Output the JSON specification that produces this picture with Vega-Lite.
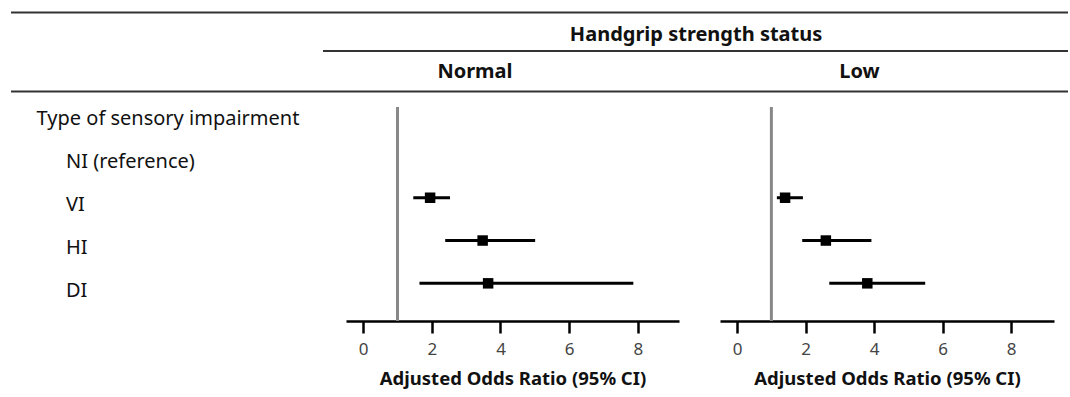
{
  "$schema": "https://vega.github.io/schema/vega-lite/v6.json",
  "background": "white",
  "padding": {"left": 10, "top": 11, "right": 3, "bottom": 5},
  "config": {"view": {"stroke": null}, "font": "Noto Sans"},
  "datasets": {
    "or": [
      {"grip": "Normal", "type": "VI", "or": 1.95, "lo": 1.46, "hi": 2.53},
      {"grip": "Normal", "type": "HI", "or": 3.48, "lo": 2.39, "hi": 5.01},
      {"grip": "Normal", "type": "DI", "or": 3.64, "lo": 1.64, "hi": 7.87},
      {"grip": "Low", "type": "VI", "or": 1.40, "lo": 1.16, "hi": 1.92},
      {"grip": "Low", "type": "HI", "or": 2.59, "lo": 1.90, "hi": 3.92},
      {"grip": "Low", "type": "DI", "or": 3.80, "lo": 2.69, "hi": 5.49}
    ],
    "rows": [
      {"label": "Type of sensory impairment", "level": "heading"},
      {"label": "NI (reference)", "level": "item"},
      {"label": "VI", "level": "item"},
      {"label": "HI", "level": "item"},
      {"label": "DI", "level": "item"}
    ],
    "hdr": [
      {"text": "Handgrip strength status", "panel": "Normal", "level": "top"},
      {"text": "Normal", "panel": "Normal", "level": "sub"},
      {"text": "Low", "panel": "Low", "level": "sub"}
    ]
  },
  "spacing": 12,
  "resolve": {"scale": {"x": "independent", "y": "independent"}},
  "vconcat": [
    {
      "spacing": 0,
      "bounds": "flush",
      "resolve": {"scale": {"x": "independent", "y": "independent"}},
      "hconcat": [
        {
          "width": 312, "height": 80,
          "layer": [
            {"data": {"values": [{}]}, "mark": {"type": "rule", "color": "#333", "strokeWidth": 2},
             "encoding": {"y": {"datum": 0.025, "type": "quantitative", "scale": {"domain": [0, 4], "reverse": true}, "axis": null}}},
            {"data": {"values": [{}]}, "mark": {"type": "rule", "color": "#333", "strokeWidth": 2},
             "encoding": {"y": {"datum": 3.975, "type": "quantitative", "scale": {"domain": [0, 4], "reverse": true}, "axis": null}}}
          ]
        },
        {
          "width": 378, "height": 80,
          "layer": [
            {"data": {"values": [{}]}, "mark": {"type": "rule", "color": "#333", "strokeWidth": 2},
             "encoding": {"y": {"datum": 0.025, "type": "quantitative", "scale": {"domain": [0, 4], "reverse": true}, "axis": null}}},
            {"data": {"values": [{}]}, "mark": {"type": "rule", "color": "#333", "strokeWidth": 2},
             "encoding": {"y": {"datum": 1.95, "type": "quantitative", "scale": {"domain": [0, 4], "reverse": true}, "axis": null}}},
            {"data": {"values": [{}]}, "mark": {"type": "rule", "color": "#333", "strokeWidth": 2},
             "encoding": {"y": {"datum": 3.975, "type": "quantitative", "scale": {"domain": [0, 4], "reverse": true}, "axis": null}}},
            {"data": {"name": "hdr"},
             "transform": [{"filter": "datum.panel == 'Normal' && datum.level == 'top'"}],
             "mark": {"type": "text", "align": "center", "baseline": "middle", "fontSize": 20, "fontWeight": "bold", "color": "#111"},
             "encoding": {
               "x": {"datum": 0.987, "type": "quantitative", "scale": {"domain": [0, 1]}, "axis": null},
               "y": {"datum": 1.15, "type": "quantitative", "scale": {"domain": [0, 4], "reverse": true}, "axis": null},
               "text": {"field": "text"}
             }},
            {"data": {"name": "hdr"},
             "transform": [{"filter": "datum.panel == 'Normal' && datum.level == 'sub'"}],
             "mark": {"type": "text", "align": "center", "baseline": "middle", "fontSize": 20, "fontWeight": "bold", "color": "#111"},
             "encoding": {
               "x": {"datum": 0.402, "type": "quantitative", "scale": {"domain": [0, 1]}, "axis": null},
               "y": {"datum": 3.0, "type": "quantitative", "scale": {"domain": [0, 4], "reverse": true}, "axis": null},
               "text": {"field": "text"}
             }}
          ]
        },
        {
          "width": 367, "height": 80,
          "layer": [
            {"data": {"values": [{}]}, "mark": {"type": "rule", "color": "#333", "strokeWidth": 2},
             "encoding": {"y": {"datum": 0.025, "type": "quantitative", "scale": {"domain": [0, 4], "reverse": true}, "axis": null}}},
            {"data": {"values": [{}]}, "mark": {"type": "rule", "color": "#333", "strokeWidth": 2},
             "encoding": {"y": {"datum": 1.95, "type": "quantitative", "scale": {"domain": [0, 4], "reverse": true}, "axis": null}}},
            {"data": {"values": [{}]}, "mark": {"type": "rule", "color": "#333", "strokeWidth": 2},
             "encoding": {"y": {"datum": 3.975, "type": "quantitative", "scale": {"domain": [0, 4], "reverse": true}, "axis": null}}},
            {"data": {"name": "hdr"},
             "transform": [{"filter": "datum.panel == 'Low' && datum.level == 'sub'"}],
             "mark": {"type": "text", "align": "center", "baseline": "middle", "fontSize": 20, "fontWeight": "bold", "color": "#111"},
             "encoding": {
               "x": {"datum": 0.432, "type": "quantitative", "scale": {"domain": [0, 1]}, "axis": null},
               "y": {"datum": 3.0, "type": "quantitative", "scale": {"domain": [0, 4], "reverse": true}, "axis": null},
               "text": {"field": "text"}
             }}
          ]
        }
      ]
    },
    {
      "spacing": 41,
      "bounds": "flush",
      "resolve": {"scale": {"x": "independent", "y": "independent"}},
      "hconcat": [
        {
          "width": 294, "height": 214,
          "data": {"name": "rows"},
          "layer": [
            {"transform": [{"filter": "datum.level == 'heading'"}],
             "mark": {"type": "text", "align": "left", "baseline": "middle", "fontSize": 20, "color": "#111"},
             "encoding": {
               "x": {"datum": 0.087, "type": "quantitative", "scale": {"domain": [0, 1]}, "axis": null},
               "y": {"field": "label", "type": "nominal", "axis": null,
                     "scale": {"type": "point", "domain": ["Type of sensory impairment", "NI (reference)", "VI", "HI", "DI"], "paddingOuter": 0.597, "align": 0.29}},
               "text": {"field": "label"}
             }},
            {"transform": [{"filter": "datum.level == 'item'"}],
             "mark": {"type": "text", "align": "left", "baseline": "middle", "fontSize": 20, "color": "#111"},
             "encoding": {
               "x": {"datum": 0.187, "type": "quantitative", "scale": {"domain": [0, 1]}, "axis": null},
               "y": {"field": "label", "type": "nominal", "axis": null,
                     "scale": {"type": "point", "domain": ["Type of sensory impairment", "NI (reference)", "VI", "HI", "DI"], "paddingOuter": 0.597, "align": 0.29}},
               "text": {"field": "label"}
             }}
          ]
        },
        {
          "width": 333, "height": 214,
          "data": {"name": "or"},
          "transform": [{"filter": "datum.grip == 'Normal'"}],
          "layer": [
            {"data": {"values": [{}]}, "mark": {"type": "rule", "color": "#888", "strokeWidth": 3},
             "encoding": {"x": {"datum": 1, "type": "quantitative"}}},
            {"mark": {"type": "rule", "color": "#000", "strokeWidth": 3},
             "encoding": {
               "x": {"field": "lo", "type": "quantitative", "scale": {"domain": [-0.5, 9.2], "nice": false, "zero": false},
                     "axis": {"values": [0, 2, 4, 6, 8], "title": "Adjusted Odds Ratio (95% CI)", "grid": false,
                              "domainColor": "#000", "domainWidth": 2.5, "tickColor": "#000", "tickWidth": 2.5, "tickSize": 12,
                              "labelFontSize": 17, "labelColor": "#444", "labelPadding": 8, "labelFont": "Noto Sans",
                              "titleFontSize": 18.5, "titleFontWeight": "bold", "titleColor": "#111", "titlePadding": 12, "titleFont": "Noto Sans"}},
               "x2": {"field": "hi"},
               "y": {"field": "type", "type": "nominal", "axis": null,
                     "scale": {"type": "point", "domain": ["Type of sensory impairment", "NI (reference)", "VI", "HI", "DI"], "paddingOuter": 0.404, "align": 0.12}}
             }},
            {"mark": {"type": "square", "filled": true, "color": "#000", "size": 110, "opacity": 1},
             "encoding": {
               "x": {"field": "or", "type": "quantitative"},
               "y": {"field": "type", "type": "nominal"}
             }}
          ]
        },
        {
          "width": 334, "height": 214,
          "data": {"name": "or"},
          "transform": [{"filter": "datum.grip == 'Low'"}],
          "layer": [
            {"data": {"values": [{}]}, "mark": {"type": "rule", "color": "#888", "strokeWidth": 3},
             "encoding": {"x": {"datum": 1, "type": "quantitative"}}},
            {"mark": {"type": "rule", "color": "#000", "strokeWidth": 3},
             "encoding": {
               "x": {"field": "lo", "type": "quantitative", "scale": {"domain": [-0.5, 9.25], "nice": false, "zero": false},
                     "axis": {"values": [0, 2, 4, 6, 8], "title": "Adjusted Odds Ratio (95% CI)", "grid": false,
                              "domainColor": "#000", "domainWidth": 2.5, "tickColor": "#000", "tickWidth": 2.5, "tickSize": 12,
                              "labelFontSize": 17, "labelColor": "#444", "labelPadding": 8, "labelFont": "Noto Sans",
                              "titleFontSize": 18.5, "titleFontWeight": "bold", "titleColor": "#111", "titlePadding": 12, "titleFont": "Noto Sans"}},
               "x2": {"field": "hi"},
               "y": {"field": "type", "type": "nominal", "axis": null,
                     "scale": {"type": "point", "domain": ["Type of sensory impairment", "NI (reference)", "VI", "HI", "DI"], "paddingOuter": 0.404, "align": 0.12}}
             }},
            {"mark": {"type": "square", "filled": true, "color": "#000", "size": 110, "opacity": 1},
             "encoding": {
               "x": {"field": "or", "type": "quantitative"},
               "y": {"field": "type", "type": "nominal"}
             }}
          ]
        }
      ]
    }
  ]
}
